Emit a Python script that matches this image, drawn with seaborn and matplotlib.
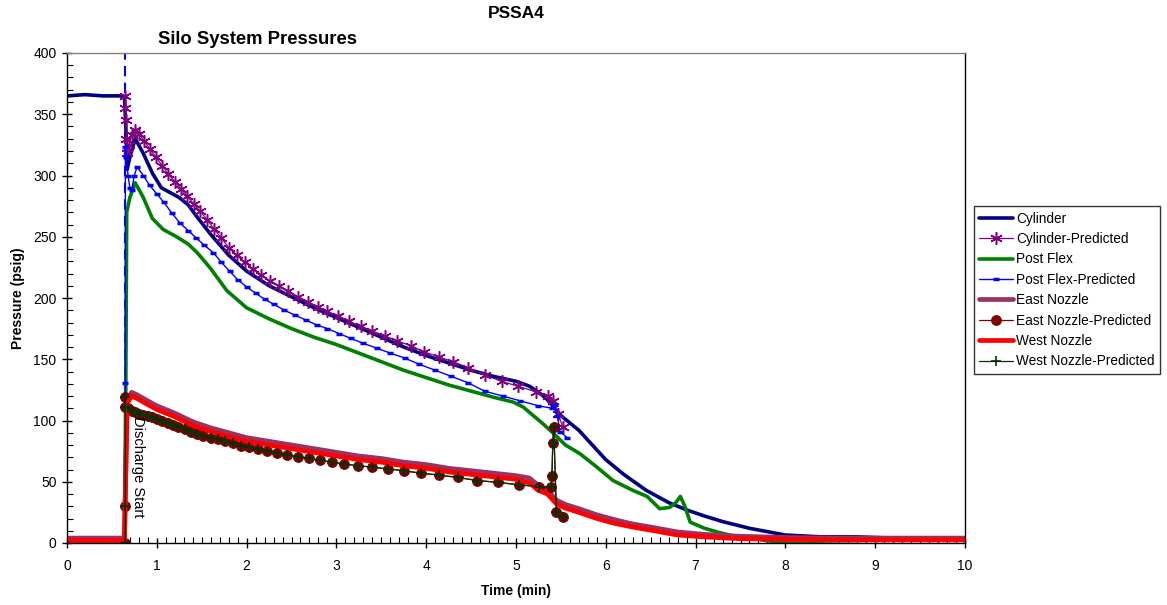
import matplotlib
matplotlib.use("Agg")
import matplotlib.pyplot as plt
import seaborn as sns
from matplotlib.ticker import MultipleLocator

# ---------------- data ----------------
cyl_t = [0, 0.2, 0.4, 0.6, 0.64, 0.655, 0.67, 0.70, 0.76, 0.85, 0.95, 1.05, 1.15, 1.25, 1.35,
         1.45, 1.6, 1.8, 2.0, 2.25, 2.5, 2.75, 3.0, 3.25, 3.5, 3.75, 4.0, 4.25, 4.5, 4.75, 5.0,
         5.15, 5.27, 5.35, 5.42, 5.5, 5.6, 5.7, 5.85, 6.0, 6.2, 6.45, 6.7, 6.9, 7.1, 7.3, 7.6,
         8.0, 8.4, 8.8, 9.2, 9.6, 10]
cyl_v = [365, 366, 365, 365, 364, 340, 305, 315, 330, 318, 302, 290, 286, 282, 276,
         266, 252, 235, 222, 210, 201, 192, 184, 176, 168, 160, 153, 147, 141, 136, 132,
         128, 122, 117, 111, 104, 98, 92, 80, 68, 56, 43, 33, 27, 22, 17.5, 12,
         6.5, 5, 5, 4, 4, 4]

cylp_t = [0.65, 0.65, 0.655, 0.66, 0.67, 0.69, 0.72, 0.76, 0.80, 0.86, 0.92, 0.99, 1.06, 1.13,
          1.2, 1.27, 1.34, 1.41, 1.48, 1.56, 1.64, 1.72, 1.8, 1.89, 1.98, 2.07, 2.16, 2.26,
          2.36, 2.46, 2.57, 2.68, 2.79, 2.9, 3.02, 3.14, 3.27, 3.4, 3.54, 3.68, 3.83, 3.98,
          4.14, 4.3, 4.47, 4.65, 4.84, 5.02, 5.22, 5.36, 5.41, 5.47, 5.52]
cylp_v = [365, 355, 345, 330, 318, 325, 333, 337, 334, 328, 322, 315, 308, 301,
          295, 289, 283, 277, 271, 264, 256, 249, 241, 235, 229, 224, 219, 214,
          210, 206, 201, 197, 193, 189, 185.5, 181, 177, 173, 169, 165, 161, 156,
          152, 148, 143, 137, 132, 128, 123.5, 120, 116, 105, 95]

pf_t = [0, 0.3, 0.64, 0.655, 0.665, 0.70, 0.76, 0.85, 0.95, 1.07, 1.22, 1.35, 1.45, 1.6, 1.78,
        2.0, 2.25, 2.5, 2.75, 3.0, 3.25, 3.5, 3.75, 4.0, 4.25, 4.5, 4.75, 4.97, 5.08, 5.16,
        5.29, 5.41, 5.55, 5.71, 5.9, 6.08, 6.3, 6.46, 6.6, 6.71, 6.78, 6.83, 6.88, 6.94, 7.1,
        7.24, 7.46, 7.7, 7.97, 8.5, 9.0, 9.5, 10]
pf_v = [-1, -1, -1, 130, 270, 282, 294, 282, 265, 256, 250, 244, 237, 224, 206,
        192, 183, 175, 168, 162, 155, 148, 141, 135, 129, 124, 119, 115, 111, 106,
        98, 90, 80, 73, 62, 51, 43, 38, 28, 29, 33, 38, 30, 17, 12,
        9, 5, 3, 0, -1, -1.5, -1.5, -1.5]

pfp_t = [0.65, 0.65, 0.65, 0.66, 0.68, 0.70, 0.72, 0.75, 0.78, 0.85, 0.92, 1.0, 1.08, 1.17,
         1.26, 1.35, 1.44, 1.53, 1.63, 1.72, 1.81, 1.90, 2.0, 2.1, 2.2, 2.3, 2.42, 2.54, 2.66,
         2.78, 2.9, 3.03, 3.16, 3.3, 3.45, 3.6, 3.76, 3.92, 4.1, 4.28, 4.46, 4.65, 4.85, 5.05,
         5.25, 5.40, 5.43, 5.46, 5.49, 5.57]
pfp_v = [0, 131, 323, 315, 300, 290, 288, 300, 307, 300, 292, 285, 278, 269,
         261, 255, 249, 243, 237, 229, 222, 215, 209, 204, 199, 195, 190, 186, 182,
         178, 175, 171, 167, 163, 159, 155, 151, 146, 141, 136, 131, 124, 120, 116,
         112, 110, 113, 104, 91, 86]

noz_t = [0, 0.3, 0.64, 0.655, 0.67, 0.72, 0.78, 0.9, 1.0, 1.2, 1.4, 1.6, 1.8, 2.0, 2.25, 2.5,
         2.75, 3.0, 3.25, 3.5, 3.75, 4.0, 4.25, 4.5, 4.75, 5.0, 5.15, 5.25, 5.35, 5.45, 5.55,
         5.7, 5.9, 6.1, 6.3, 6.5, 6.8, 7.1, 7.5, 8.0, 8.5, 9.0, 9.5, 10]
east_v = [4, 4, 4, 62, 117, 123, 121, 116, 112, 106, 99, 94, 90, 86, 83, 80,
          77, 74, 71, 69, 66, 64, 61, 59, 57, 55, 53, 47, 43, 35, 31.5,
          28, 23, 19, 15.5, 13, 9, 7, 5.5, 4.5, 4, 4, 4, 4]
west_v = [2, 2, 2, 60, 114, 120, 118, 113, 109, 103, 96, 91, 87, 83, 80, 77,
          74, 71, 68, 66, 63, 61, 58, 56, 54, 52, 49, 43, 40, 32, 28.5,
          25, 20, 16, 13, 10.5, 6.5, 5, 3.5, 3, 2.5, 2.5, 2.5, 2.5]

nozp_t = [0.65, 0.65, 0.65, 0.65, 0.68, 0.72, 0.76, 0.80, 0.85, 0.90, 0.95, 1.0, 1.06, 1.12,
          1.18, 1.24, 1.31, 1.38, 1.45, 1.52, 1.6, 1.68, 1.76, 1.85, 1.94, 2.03, 2.13, 2.23,
          2.34, 2.45, 2.57, 2.69, 2.82, 2.95, 3.09, 3.24, 3.4, 3.57, 3.75, 3.94, 4.14, 4.35,
          4.57, 4.8, 5.03, 5.26, 5.39, 5.40, 5.41, 5.42, 5.45, 5.52]
nozp_v = [0, 30, 119, 111, 110, 108, 107, 105.5, 104.5, 103.5, 102.5, 101, 99.5, 98,
          96.5, 95, 93, 91, 89, 87.5, 86, 84.5, 83, 81.5, 79.5, 78, 76.5, 75,
          73.5, 72, 70.5, 69, 67.5, 66, 64.5, 63, 62, 60.5, 59, 57, 55.5, 53.5,
          51, 49.5, 47.5, 46, 45.7, 55, 82, 95, 25, 21]

discharge_t = 0.65

# ---------------- plot ----------------
sns.set_theme(style="white")
plt.rcParams['font.family'] = ['Liberation Sans', 'DejaVu Sans']
plt.rcParams['text.color'] = 'black'
plt.rcParams['axes.labelcolor'] = 'black'
plt.rcParams['xtick.color'] = 'black'
plt.rcParams['ytick.color'] = 'black'

fig = plt.figure(figsize=(11.67, 6.05), dpi=100)
ax = fig.add_axes([67/1167, 62/605, (965-67)/1167, (543-53)/605])

common = dict(ax=ax, estimator=None, sort=False)

sns.lineplot(x=cyl_t, y=cyl_v, color='#000080', lw=2.6, label='Cylinder', **common)
sns.lineplot(x=cylp_t, y=cylp_v, color='#800080', lw=0.9, marker=(6, 2, 0), markersize=9,
             markeredgewidth=1.1, markeredgecolor='#800080', label='Cylinder-Predicted', **common)
sns.lineplot(x=pf_t, y=pf_v, color='#008000', lw=2.6, label='Post Flex', **common)
sns.lineplot(x=pfp_t, y=pfp_v, color='#0000FF', lw=1.0, marker='_', markersize=5,
             markeredgewidth=2.5, markeredgecolor='#0000FF', label='Post Flex-Predicted', **common)
sns.lineplot(x=noz_t, y=east_v, color='#993366', lw=3.4, label='East Nozzle', **common)
sns.lineplot(x=nozp_t, y=nozp_v, color='#800000', lw=0.9, marker='o', markersize=7,
             markerfacecolor='#800000', markeredgecolor='#800000',
             label='East Nozzle-Predicted', **common)
sns.lineplot(x=noz_t, y=west_v, color='#FF0000', lw=3.4, label='West Nozzle', **common)
sns.lineplot(x=nozp_t, y=nozp_v, color='#003300', lw=0.9, marker='+', markersize=7,
             markeredgewidth=1.2, markeredgecolor='#003300',
             label='West Nozzle-Predicted', **common)

ax.axvline(discharge_t, color='#0000FF', lw=1.5, ls=(0, (5, 3)), zorder=1)
ax.text(discharge_t + 0.06, 62, 'Discharge Start', rotation=-90, fontsize=10.5,
        ha='left', va='center', color='black')

ax.set_xlim(0, 10)
ax.set_ylim(0, 400)
ax.xaxis.set_major_locator(MultipleLocator(1))
ax.xaxis.set_minor_locator(MultipleLocator(0.1))
ax.yaxis.set_major_locator(MultipleLocator(50))
ax.yaxis.set_minor_locator(MultipleLocator(10))
ax.tick_params(axis='both', which='major', direction='inout', length=7, width=1,
               color='black', labelcolor='black', labelsize=10, pad=4, bottom=True, left=True)
ax.tick_params(axis='both', which='minor', direction='in', length=4, width=0.8,
               color='black', bottom=True, left=True)
ax.tick_params(axis='x', which='major', pad=8)

for s in ['left', 'bottom', 'right']:
    ax.spines[s].set_color('black')
    ax.spines[s].set_linewidth(1)
ax.spines['top'].set_color('#808080')
ax.spines['top'].set_linewidth(1)

ax.set_xlabel('Time (min)', fontsize=10, fontweight='bold', labelpad=8, color='black')
ax.set_ylabel('Pressure (psig)', fontsize=10, fontweight='bold', labelpad=6, color='black')

fig.text(516/1167, 1 - 14/605, 'PSSA4', fontsize=12.5, fontweight='bold', ha='center',
         va='center', color='black')
fig.text(257/1167, 1 - 40/605, 'Silo System Pressures', fontsize=13.3, fontweight='bold',
         ha='center', va='center', color='black')

handles, labels = ax.get_legend_handles_labels()
if ax.legend_ is not None:
    ax.legend_.remove()
leg = fig.legend(handles, labels, loc='center left', bbox_to_anchor=(974/1167, 1 - 290/605),
                 fontsize=9.8, frameon=True, fancybox=False, edgecolor='black',
                 borderpad=0.4, labelspacing=0.47, handlelength=2.5, handletextpad=0.2,
                 borderaxespad=0)
leg.get_frame().set_linewidth(1)
for t in leg.get_texts():
    t.set_color('black')

fig.savefig('out.png', dpi=100)
